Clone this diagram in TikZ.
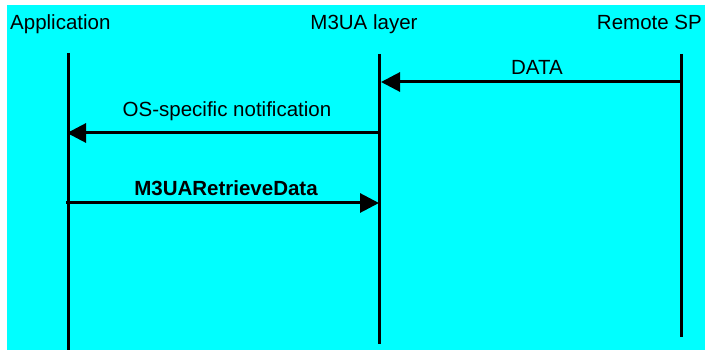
\documentclass[tikz,border=0pt]{standalone}
\usepackage{fontspec}
\setmainfont{Liberation Sans}
\usetikzlibrary{arrows.meta}
\definecolor{aqua}{RGB}{0,255,255}
\begin{document}
\begin{tikzpicture}[x=1pt,y=-1pt,
  lifeline/.style={line width=3pt},
  msg/.style={line width=3pt,-{Triangle[length=19pt,width=19pt]}},
  lbl/.style={inner sep=0pt,font=\fontsize{20.5}{24}\selectfont}]
\useasboundingbox (0,0) rectangle (705,350);
\fill[aqua] (7,5) rectangle (705,350);

% participants
\node[lbl,anchor=base west]  (app) at (10,30)  {Application};
\node[lbl,anchor=base]       (m3ua) at (364,30) {M3UA layer};
\node[lbl,anchor=base east]  (rsp) at (702,30) {Remote SP};

% lifelines
\coordinate (appT) at (68,53);   \coordinate (appB) at (68,352);
\coordinate (m3T)  at (379,54);  \coordinate (m3B)  at (379,344);
\coordinate (rsT)  at (681,54);  \coordinate (rsB)  at (681,337);
\draw[lifeline] (appT) -- (appB);
\draw[lifeline] (m3T) -- (m3B);
\draw[lifeline] (rsT) -- (rsB);

% messages
\coordinate (dS) at (681,82);  \coordinate (dE) at (381,82);
\coordinate (oS) at (379,133); \coordinate (oE) at (67,133);
\coordinate (rS) at (66,203);  \coordinate (rE) at (379,203);
\draw[msg] (dS) -- (dE);
\draw[msg] (oS) -- (oE);
\draw[msg] (rS) -- (rE);

\node[lbl,anchor=base] (dataL) at (537,75)  {DATA};
\node[lbl,anchor=base] (osL)   at (227,117) {OS-specific notification};
\node[lbl,anchor=base,font=\fontsize{20.5}{24}\selectfont\bfseries] (retL) at (226,196) {M3UARetrieveData};
\end{tikzpicture}
\end{document}
